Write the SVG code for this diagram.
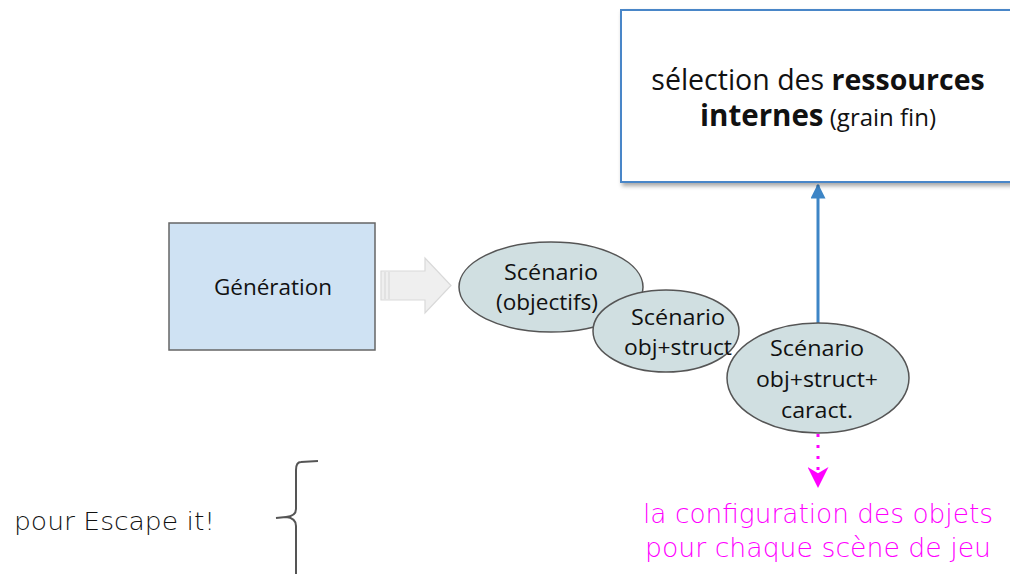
<svg xmlns="http://www.w3.org/2000/svg" width="1010" height="574" viewBox="0 0 1010 574">
  <defs>
    <filter id="shadow" x="-10%" y="-10%" width="130%" height="140%">
      <feDropShadow dx="2" dy="3" stdDeviation="2" flood-color="#000" flood-opacity="0.35"/>
    </filter>
    <marker id="blueHead" viewBox="0 0 10 10" refX="9" refY="5" markerWidth="5" markerHeight="5" orient="auto" markerUnits="strokeWidth">
      <path d="M0,0 L10,5 L0,10 z" fill="#3d85c6"/>
    </marker>
    <marker id="pinkHead" viewBox="0 0 10 10" refX="10" refY="5" markerWidth="7" markerHeight="7" orient="auto" markerUnits="strokeWidth">
      <path d="M0,0 L10,5 L0,10 L3,5 z" fill="#ff00ff"/>
    </marker>
  </defs>
  <style>
    .box { font-family: "Open Sans", "Liberation Sans", sans-serif; fill: #111; }
    .ell { fill: #d0dfe1; stroke: #555; stroke-width: 1.5; }
    .elltxt { font-family: "Open Sans", "Liberation Sans", sans-serif; font-size: 22.5px; fill: #111; text-anchor: middle; }
    .hand { font-family: "DejaVu Sans", "Liberation Sans", sans-serif; font-weight: 200; }
  </style>

  <rect width="1010" height="574" fill="#ffffff"/>

  <g id="connectors">
    <!-- block arrow from Génération to the scenarios -->
    <g id="block-arrow">
      <path d="M381,271 L425,271 L425,258 L451,285.5 L425,313 L425,300 L381,300 Z" fill="#efefef" stroke="#d9d9d9" stroke-width="1.2"/>
      <line x1="385" y1="272" x2="385" y2="299" stroke="#d9d9d9" stroke-width="1.2"/>
      <line x1="389" y1="272" x2="389" y2="299" stroke="#d9d9d9" stroke-width="1.2"/>
    </g>
    <line x1="818" y1="323" x2="818" y2="185" stroke="#3d85c6" stroke-width="3" marker-end="url(#blueHead)"/>
    <line x1="818" y1="434" x2="818" y2="488" stroke="#ff00ff" stroke-width="3" stroke-dasharray="3,8" marker-end="url(#pinkHead)"/>
  </g>

  <g id="selection">
    <rect x="621" y="10" width="400" height="172" fill="#ffffff" stroke="#4a86c8" stroke-width="2" filter="url(#shadow)"/>
    <text class="box" x="818" y="90" font-size="28.5" text-anchor="middle">sélection des <tspan font-weight="bold">ressources</tspan></text>
    <text class="box" x="818" y="126" text-anchor="middle"><tspan font-size="29.5" font-weight="bold">internes</tspan><tspan font-size="24"> (grain fin)</tspan></text>
  </g>

  <g id="generation">
    <rect x="169" y="223" width="206" height="127" fill="#cfe2f3" stroke="#666" stroke-width="1.5"/>
    <text class="box" x="273" y="295" font-size="22" text-anchor="middle" textLength="118" lengthAdjust="spacingAndGlyphs">Génération</text>
  </g>

  <g id="scenario-objectifs">
    <ellipse class="ell" cx="551" cy="287" rx="92" ry="45"/>
    <text class="elltxt" x="551" y="280" textLength="94" lengthAdjust="spacingAndGlyphs">Scénario</text>
    <text class="elltxt" x="547" y="310" textLength="102" lengthAdjust="spacingAndGlyphs">(objectifs)</text>
  </g>

  <g id="scenario-struct">
    <ellipse class="ell" cx="666" cy="331" rx="73" ry="41"/>
    <text class="elltxt" x="678" y="325" textLength="94" lengthAdjust="spacingAndGlyphs">Scénario</text>
    <text class="elltxt" x="678" y="355" textLength="108" lengthAdjust="spacingAndGlyphs">obj+struct</text>
  </g>

  <g id="scenario-caract">
    <ellipse class="ell" cx="818" cy="378" rx="91" ry="55"/>
    <text class="elltxt" x="817" y="356" textLength="94" lengthAdjust="spacingAndGlyphs">Scénario</text>
    <text class="elltxt" x="817" y="387" textLength="122" lengthAdjust="spacingAndGlyphs">obj+struct+</text>
    <text class="elltxt" x="817" y="418" textLength="72" lengthAdjust="spacingAndGlyphs">caract.</text>
  </g>

  <g id="config-note">
    <text class="hand" x="818" y="523" font-size="26" fill="#ff00ff" text-anchor="middle" textLength="350" lengthAdjust="spacingAndGlyphs">la configuration des objets</text>
    <text class="hand" x="818" y="557" font-size="26" fill="#ff00ff" text-anchor="middle" textLength="346" lengthAdjust="spacingAndGlyphs">pour chaque scène de jeu</text>
  </g>

  <g id="escape-note">
    <text class="hand" x="14" y="530" font-size="24" fill="#111" textLength="201" lengthAdjust="spacingAndGlyphs">pour Escape it!</text>
    <path d="M318,461 L301,462 Q296,462 296,470 L296,509 Q296,516 286,517 L276,518 M286,517 Q296,518 296,526 L296,574" fill="none" stroke="#555" stroke-width="2"/>
  </g>
</svg>
